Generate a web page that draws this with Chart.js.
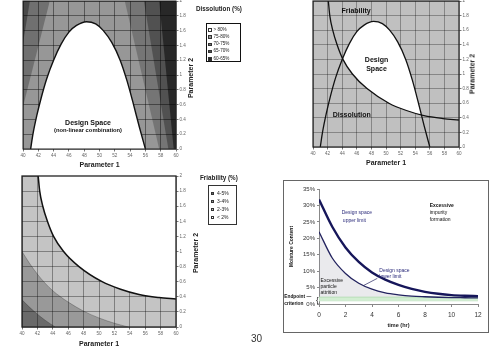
<!DOCTYPE html>
<html>
<head>
<meta charset="utf-8">
<script src="https://cdn.jsdelivr.net/npm/chart.js@4.4.1/dist/chart.umd.min.js"></script>
<style>
body{margin:0;width:500px;height:350px;overflow:hidden;background:#fff;position:relative;font-family:'Liberation Sans',Arial,sans-serif}
canvas,.t,.lg,.box4{position:absolute}
.t{white-space:nowrap;color:#222;line-height:1}
.rot{transform:translate(-50%,-50%) rotate(-90deg);font-weight:bold;font-size:7px}
.lg{box-sizing:border-box;overflow:hidden;background:#fff}
.lg div{position:absolute;white-space:nowrap;line-height:1;color:#222}
.lg span{position:absolute;box-sizing:border-box;border:0.6px solid #333}
.box4{left:283px;top:180px;width:206px;height:153px;box-sizing:border-box;border:1px solid #666}
</style>
</head>
<body>
<canvas id="c1" width="250" height="181" style="left:0;top:-6px;width:250px;height:181px"></canvas>
<canvas id="c2" width="250" height="181" style="left:250px;top:-6px;width:250px;height:181px"></canvas>
<canvas id="c3" width="250" height="180" style="left:0;top:170px;width:250px;height:180px"></canvas>
<div class="box4"></div>
<canvas id="c4" width="204" height="151" style="left:284px;top:181px;width:204px;height:151px"></canvas>

<div class="t rot" style="left:190px;top:78px">Parameter 2</div>
<div class="t rot" style="left:472px;top:74px">Parameter 2</div>
<div class="t rot" style="left:195px;top:253px">Parameter 2</div>
<div class="t" style="left:196px;top:6px;font-size:6.3px;font-weight:bold">Dissolution (%)</div>
<div class="t" style="left:200px;top:175px;font-size:6.3px;font-weight:bold">Friability (%)</div>
<div class="lg" id="lg1" style="left:206px;top:23px;width:35px;height:39px;border:1.5px solid #111"></div>
<div class="lg" id="lg3" style="left:208px;top:185px;width:29px;height:40px;border:1px solid #333"></div>
<div class="t" style="left:251px;top:334px;font-size:10px;color:#333">30</div>

<script>
// ---- data ----
// dissolution design-space boundary (Parameter 1 / Parameter 2)
var disP1 = [41,41.3,41.8,42.4,43.1,44,45,46,47,48.3,49.5,50.5,51.6,52.7,53.6,54.4,55.2,56];
var disP2 = [0,0.2,0.45,0.7,0.95,1.2,1.42,1.58,1.67,1.72,1.69,1.6,1.44,1.2,0.92,0.62,0.3,0];
// dissolution contour bands (boundary lines, region to the right / upper-left of each)
var band70R = {p1:[53.3,57.8,60], p2:[2,0,0]};
var band65R = {p1:[55.8,59,60],   p2:[2,0,0]};
var band60R = {p1:[57.8,59.7,60], p2:[2,0,0]};
var band70L = {p1:[40,43.5],      p2:[0.57,2]};
var band65L = {p1:[40,40.9],      p2:[1.43,2]};
// friability < 2% boundary
var friP1 = [42.1,42.3,42.7,43.3,44.1,45.4,47.4,50.4,52.8,55.2,57.8,60];
var friP2 = [2,1.8,1.6,1.4,1.2,1.0,0.8,0.6,0.5,0.43,0.39,0.37];
// friability 3% and 4% boundaries
var fri3P1 = [40,41,42,43,44,45,46,48,50,52,53.8];
var fri3P2 = [1.0,0.84,0.7,0.58,0.48,0.4,0.33,0.21,0.12,0.05,0];
var fri4P1 = [40,41,42,43,44.3];
var fri4P2 = [0.36,0.26,0.17,0.09,0];
var disLabels = ['> 80%','75-80%','70-75%','65-70%','60-65%'];
var friLabels = ['4-5%','3-4%','2-3%','< 2%'];

// drying curves
var timeHr     = [0,1,2,3,4,5,6,7,8,9,10,11,12];
var upperLimit = [31.8,23.5,17.2,12.8,9.6,7.4,5.8,4.6,3.7,3.1,2.7,2.5,2.4];
var lowerLimit = [22,14,9.3,6.3,4.5,3.4,2.8,2.4,2.2,2.05,1.95,1.9,1.85];
var endTime = [0,12];
var endHi = [2.1,2.1];
var endLo = [0.9,0.9];
var leaderT = [4.4,3.35];
var leaderY = [7.8,5.6];

// ---- helpers ----
Chart.defaults.font.family = "'Liberation Sans', Arial, sans-serif";
Chart.defaults.animation = false;

function pts(xs, ys){ return xs.map(function(x,i){ return {x:x, y:ys[i]}; }); }
function ds(data, o){ return Object.assign({data:data, pointRadius:0, borderWidth:0, borderColor:'rgba(0,0,0,0)', fill:false, tension:0}, o); }

function areaBg(color){ return {id:'areaBg', beforeDraw:function(c){
  var a=c.chartArea, x=c.ctx; x.save(); x.fillStyle=color; x.fillRect(a.left,a.top,a.right-a.left,a.bottom-a.top); x.restore(); }}; }
function frame(color, w){ return {id:'frame', afterDatasetsDraw:function(c){
  var a=c.chartArea, x=c.ctx; x.save(); x.strokeStyle=color; x.lineWidth=w; x.strokeRect(a.left,a.top,a.right-a.left,a.bottom-a.top); x.restore(); }}; }
function notes(items){ return {id:'notes', afterDraw:function(c){
  var x=c.ctx; items.forEach(function(n){
    x.save(); x.font=n.font; x.fillStyle=n.color||'#111'; x.textAlign=n.align||'center'; x.textBaseline='middle';
    x.fillText(n.text, c.scales.x.getPixelForValue(n.x), c.scales.y.getPixelForValue(n.y)); x.restore(); }); }}; }

function fieldAxes(c){
  var tk = {color:'#666', font:{size:4.6}, padding:1};
  return {
    x:{type:'linear', min:40, max:60,
      ticks:Object.assign({stepSize:2, maxRotation:0, autoSkip:false}, tk),
      grid:{color:c.grid, tickLength:2.5, tickColor:'#777'}, border:{display:false},
      title:{display:true, text:'Parameter 1', color:'#222', font:{size:7, weight:'bold'}, padding:{top:0, bottom:c.tpad}},
      afterFit:function(s){ s.height=c.xh; }},
    y:{type:'linear', position:'right', min:0, max:2,
      ticks:Object.assign({stepSize:0.2, callback:function(v){ return String(+v.toFixed(1)); }}, tk),
      grid:{color:c.grid, tickLength:2.5, tickColor:'#777'}, border:{display:false},
      afterFit:function(s){ s.width=c.yw; }}
  };
}
function fieldChart(id, datasets, c, plugins){
  return new Chart(document.getElementById(id), {
    type:'line', data:{datasets:datasets},
    options:{responsive:false, layout:{padding:{left:c.left, top:c.top, right:0, bottom:0}},
      plugins:{legend:{display:false}, tooltip:{enabled:false}, filler:{drawTime:'beforeDatasetsDraw'}}, scales:fieldAxes(c)},
    plugins:plugins
  });
}
var B = 'bold 7px "Liberation Sans", Arial, sans-serif';

// ---- panel 1: dissolution ----
fieldChart('c1', [
  ds(pts(disP1,disP2), {borderColor:'#111', borderWidth:1.4, backgroundColor:'#fff', fill:'origin', cubicInterpolationMode:'monotone'}),
  ds(pts(band60R.p1,band60R.p2), {backgroundColor:'rgba(0,0,0,0.5)', fill:{value:2}}),
  ds(pts(band65R.p1,band65R.p2), {backgroundColor:'rgba(0,0,0,0.3)', fill:{value:2}}),
  ds(pts(band70R.p1,band70R.p2), {backgroundColor:'rgba(0,0,0,0.22)', fill:{value:2}}),
  ds(pts(band65L.p1,band65L.p2), {backgroundColor:'rgba(0,0,0,0.35)', fill:{value:2}}),
  ds(pts(band70L.p1,band70L.p2), {backgroundColor:'rgba(0,0,0,0.26)', fill:{value:2}})
], {left:23, top:7, xh:26, yw:74, tpad:5.5, grid:'rgba(0,0,0,0.42)'},
 [areaBg('#979797'), frame('#222',1), notes([
   {text:'Design Space', x:48.5, y:0.355, font:B},
   {text:'(non-linear combination)', x:48.5, y:0.255, font:'bold 5.8px "Liberation Sans", Arial, sans-serif'}
 ])]);

// ---- panel 2: overlay ----
fieldChart('c2', [
  ds(pts(disP1,disP2), {borderColor:'#111', borderWidth:1.3, cubicInterpolationMode:'monotone',
     fill:{target:1, above:'#fff', below:'rgba(0,0,0,0)'}}),
  ds(pts(friP1,friP2), {borderColor:'#111', borderWidth:1.3, cubicInterpolationMode:'monotone'})
], {left:63, top:7, xh:28, yw:41, tpad:8, grid:'rgba(0,0,0,0.3)'},
 [areaBg('#c0c0c0'), frame('#222',1.2), notes([
   {text:'Friability', x:45.9, y:1.86, font:B},
   {text:'Design', x:48.7, y:1.19, font:B},
   {text:'Space', x:48.7, y:1.07, font:B},
   {text:'Dissolution', x:45.3, y:0.435, font:B}
 ])]);

// ---- panel 3: friability ----
fieldChart('c3', [
  ds(pts(friP1,friP2), {borderColor:'#111', borderWidth:1.5, backgroundColor:'#fff', fill:{value:2}, cubicInterpolationMode:'monotone'}),
  ds(pts(fri4P1,fri4P2), {borderColor:'rgba(0,0,0,0.4)', borderWidth:0.6, backgroundColor:'rgba(0,0,0,0.3)', fill:'origin', cubicInterpolationMode:'monotone'}),
  ds(pts(fri3P1,fri3P2), {borderColor:'rgba(0,0,0,0.4)', borderWidth:0.6, backgroundColor:'rgba(0,0,0,0.22)', fill:'origin', cubicInterpolationMode:'monotone'})
], {left:22, top:6, xh:23, yw:74, tpad:2, grid:'rgba(0,0,0,0.35)'},
 [areaBg('#c4c4c4'), frame('#222',1.3)]);

// ---- legends ----
function buildLegend(id, labels, colors, y0, dy, fs, sx, tx){
  var el=document.getElementById(id);
  labels.forEach(function(l,i){
    var r=document.createElement('div');
    r.style.top=(y0+i*dy)+'px'; r.style.left='0'; r.style.fontSize=fs+'px'; r.style.width='100%'; r.style.height=(fs+1)+'px';
    var s=document.createElement('span');
    s.style.left=sx+'px'; s.style.top='0.5px'; s.style.width='3.6px'; s.style.height='3.6px'; s.style.background=colors[i];
    var t=document.createElement('div');
    t.textContent=l; t.style.left=tx+'px'; t.style.top='0';
    r.appendChild(s); r.appendChild(t); el.appendChild(r);
  });
}
buildLegend('lg1', disLabels, ['#fff','#979797','#767676','#525252','#282828'], 3.5, 7.3, 4.6, 1.2, 6.5);
buildLegend('lg3', friLabels, ['#6b6b6b','#999999','#c4c4c4','#fff'], 5, 8, 5, 1.5, 8);

// ---- panel 4: drying curves ----
var navy='#16165a', F5='5px "Liberation Sans", Arial, sans-serif';
new Chart(document.getElementById('c4'), {
  type:'line',
  data:{datasets:[
    ds(pts(timeHr,upperLimit), {borderColor:navy, borderWidth:2.4, cubicInterpolationMode:'monotone'}),
    ds(pts(timeHr,lowerLimit), {borderColor:'#23235f', borderWidth:1.3, cubicInterpolationMode:'monotone',
       fill:{value:endHi[0], above:'rgba(150,150,165,0.2)', below:'rgba(0,0,0,0)'}}),
    ds(pts(leaderT,leaderY), {borderColor:'#23235f', borderWidth:0.7}),
    ds(pts(endTime,endHi), {borderColor:'#b3d9b3', borderWidth:0.8, backgroundColor:'rgba(205,236,205,0.9)', fill:'+1'}),
    ds(pts(endTime,endLo), {borderColor:'#cfe8cf', borderWidth:0.6})
  ]},
  options:{responsive:false, layout:{padding:{left:0, top:8, right:10, bottom:0}},
    plugins:{legend:{display:false}, tooltip:{enabled:false}, filler:{drawTime:'beforeDatasetsDraw'}},
    scales:{
      x:{type:'linear', min:0, max:12,
        ticks:{stepSize:2, color:'#333', font:{size:6.5}, padding:4, maxRotation:0},
        grid:{drawOnChartArea:false, tickLength:3, tickColor:'#888'}, border:{color:'#888', width:1},
        title:{display:true, text:'time (hr)', color:'#222', font:{size:5.5, weight:'bold'}, padding:{top:0, bottom:3.5}},
        afterFit:function(s){ s.height=28; }},
      y:{type:'linear', min:0, max:35,
        ticks:{stepSize:5, color:'#333', font:{size:6}, padding:2, callback:function(v){ return v+'%'; }},
        grid:{drawOnChartArea:false, tickLength:2, tickColor:'#888'}, border:{color:'#888', width:1},
        title:{display:true, text:'Moisture Content', color:'#111', font:{size:5, weight:'bold'}, padding:{top:5, bottom:0}},
        afterFit:function(s){ s.width=35; }}
    }},
  plugins:[notes([
    {text:'Design space', x:1.71, y:27.8, font:F5, color:'#2a2a7a', align:'left'},
    {text:'upper limit', x:1.8, y:25.5, font:F5, color:'#2a2a7a', align:'left'},
    {text:'Design space', x:4.55, y:10.2, font:F5, color:'#2a2a7a', align:'left'},
    {text:'lower limit', x:4.55, y:8.3, font:F5, color:'#2a2a7a', align:'left'},
    {text:'Excessive', x:8.35, y:29.8, font:'bold 5px "Liberation Sans", Arial, sans-serif', align:'left'},
    {text:'impurity', x:8.35, y:27.8, font:F5, align:'left'},
    {text:'formation', x:8.35, y:25.8, font:F5, align:'left'},
    {text:'Excessive', x:0.12, y:7.0, font:F5, align:'left'},
    {text:'particle', x:0.12, y:5.2, font:F5, align:'left'},
    {text:'attrition', x:0.12, y:3.5, font:F5, align:'left'},
    {text:'Endpoint \u2014', x:-2.62, y:2.1, font:'bold 4.8px "Liberation Sans", Arial, sans-serif', align:'left'},
    {text:'criterion', x:-2.62, y:0.1, font:'bold 4.8px "Liberation Sans", Arial, sans-serif', align:'left'},
    {text:'{', x:-0.12, y:1.3, font:'8px "Liberation Sans", Arial, sans-serif', align:'center'}
  ])]
});
</script>
</body>
</html>
